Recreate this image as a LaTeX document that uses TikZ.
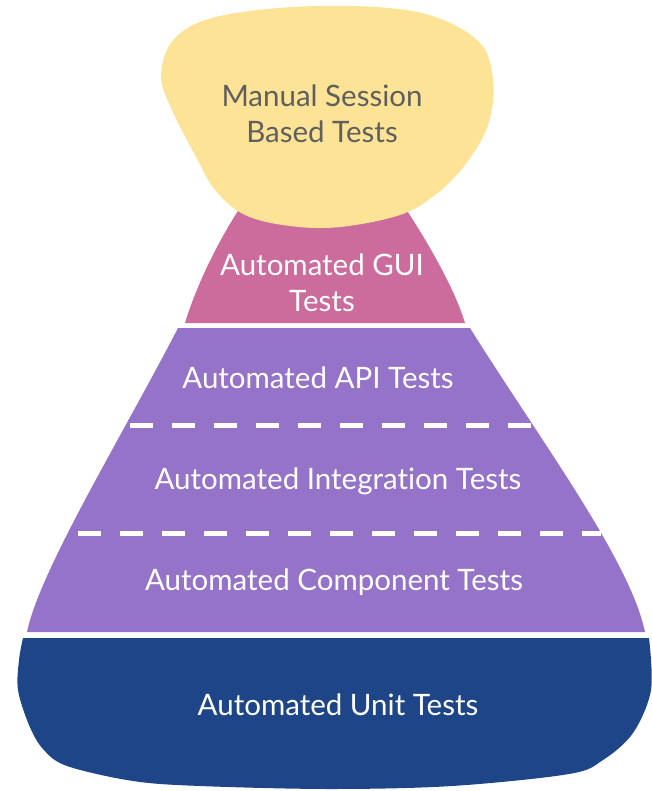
\documentclass[tikz,border=0pt]{standalone}
\usepackage{fontspec}
\setmainfont{Lato}[Ligatures={NoCommon}]
\definecolor{yel}{HTML}{FDE396}
\definecolor{pnk}{HTML}{CB6C9C}
\definecolor{prp}{HTML}{9473C8}
\definecolor{blu}{HTML}{1D4587}
\definecolor{txtgray}{HTML}{5F5F5F}
\tikzset{
  lbl/.style={text=white, font=\fontsize{29.5}{36}\selectfont, align=center, inner sep=0pt},
  darklbl/.style={lbl, text=txtgray},
  sep/.style={draw=white, line width=5pt, dash pattern=on 23pt off 19pt}
}
\begin{document}
\begin{tikzpicture}[x=1pt,y=-1pt]
\useasboundingbox (0,0) rectangle (652,791);
% blue base
\fill[blu] (23,638) -- (649,638) -- plot[smooth, tension=0.55] coordinates {(649,638) (651,690) (633,733) (603,760) (569,774) (452,786) (330,789) (200,786) (133,781) (67,766) (43,749) (29,725) (18,690) (19,660) (23,638)} -- cycle;
% purple trapezoid
\fill[prp] (178,328) -- (470,328) .. controls (540,440) and (630,560) .. (645,632) -- (27,632) .. controls (40,570) and (120,440) .. (178,328) -- cycle;
% pink
\fill[pnk] (185,323) .. controls (195,290) and (215,245) .. (245,200) -- (400,200) .. controls (430,245) and (455,290) .. (465,323) -- cycle;
% yellow blob
\fill[yel] plot[smooth cycle, tension=0.6] coordinates {(317,6) (417,12) (477,40) (493,80) (488,125) (465,165) (435,195) (400,215) (340,227) (290,226) (245,215) (215,190) (195,155) (172,110) (161,75) (175,38) (220,16)};
% separators
\coordinate (d1a) at (130,425); \coordinate (d1b) at (533,425);
\coordinate (d2a) at (78,533);  \coordinate (d2b) at (601,533);
\draw[sep] (d1a) -- (d1b);
\draw[sep] (d2a) -- (d2b);
% labels
\node[darklbl] (manual) at (322,114) {Manual Session\\Based Tests};
\node[lbl] (gui) at (322,283) {Automated GUI\\Tests};
\node[lbl] (api) at (318,378) {Automated API Tests};
\node[lbl] (integ) at (338,481) {Automated Integration Tests};
\node[lbl] (comp) at (334,582) {Automated Component Tests};
\node[lbl] (unit) at (338,705) {Automated Unit Tests};
\end{tikzpicture}
\end{document}
